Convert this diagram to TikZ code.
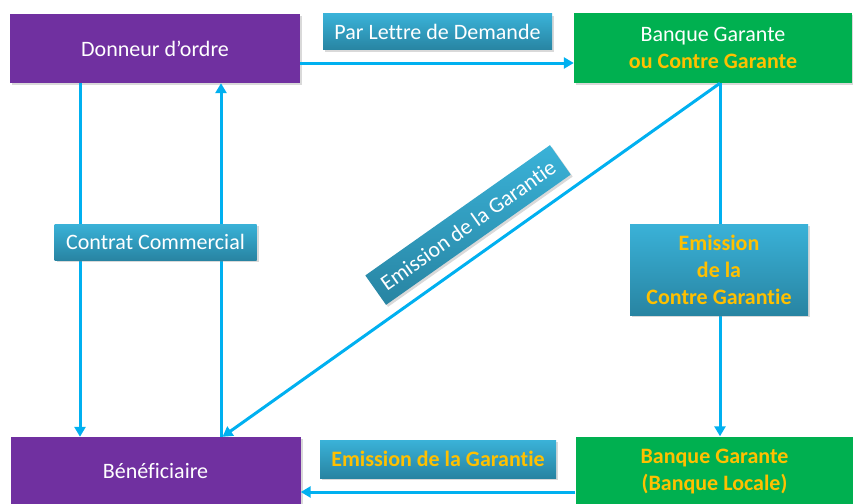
\documentclass[tikz,border=0pt]{standalone}
\usepackage{fontspec}
\setmainfont{Carlito}[RawFeature={-liga;-clig;-calt;-dlig}]
\usetikzlibrary{shadows,arrows.meta,positioning,calc}
\definecolor{violet}{RGB}{112,48,160}
\definecolor{vert}{RGB}{0,176,80}
\definecolor{fleche}{RGB}{0,176,240}
\definecolor{orange}{RGB}{255,192,0}
\definecolor{bleuhaut}{RGB}{58,178,216}
\definecolor{bleubas}{RGB}{40,132,162}

\begin{document}
\begin{tikzpicture}
[x=1pt,y=-1pt,
font=\fontsize{22}{27}\selectfont,
%
partie/.style={shape=rectangle,inner sep=0pt,text=white,align=center,
  drop shadow={shadow xshift=2pt,shadow yshift=-2pt,opacity=0.3}},
client/.style={partie,fill=violet,minimum width=290pt,minimum height=69pt},
banque/.style={partie,fill=vert,minimum width=278pt,minimum height=70pt},
etiquette/.style={shape=rectangle,inner sep=0pt,text=white,align=center,
  top color=bleuhaut,bottom color=bleubas,
  drop shadow={shadow xshift=2pt,shadow yshift=-2pt,opacity=0.3}},
gras/.style={text=orange,font=\fontsize{22}{27}\selectfont\bfseries},
%
flux/.style={draw=fleche,line width=3pt,-{Triangle[length=10pt,width=11pt]}}]
%
\useasboundingbox (0,0) rectangle (853,503);
% parties
\node (donneur) [client] at (155,48.5) {Donneur d’ordre};
\node (benef) [client] at (155.5,471.5) {Bénéficiaire};
\node (garante) [banque] at (713,48) {Banque Garante\\\textcolor{orange}{\bfseries ou Contre Garante}};
\node (locale) [banque,gras] at (714.5,471.5) {Banque Garante\\(Banque Locale)};
% fleches
\draw[flux] ([yshift=-14.5pt]donneur.east) -- ([yshift=-15pt]garante.west);
\draw[flux] ([xshift=-75pt]donneur.south) -- ([xshift=-75.5pt]benef.north);
\draw[flux] ([xshift=65.5pt]benef.north) -- ([xshift=66pt]donneur.south);
\draw[flux] ([xshift=7pt]garante.south) -- ([xshift=5.5pt]locale.north);
\draw[flux] ([xshift=7pt]garante.south) -- ([xshift=67pt]benef.north);
\draw[flux] ([yshift=-20.5pt]locale.west) -- ([yshift=-20.5pt]benef.east);
% etiquettes
\node (lettre) [etiquette,minimum width=229pt,minimum height=36pt] at (437.5,32) {Par Lettre de Demande};
\node (contrat) [etiquette,minimum width=202pt,minimum height=36pt] at (155.5,242) {Contrat Commercial};
\node (contregar) [etiquette,gras,minimum width=178pt,minimum height=91pt] at (719,269.5) {Emission\\de la\\Contre Garantie};
\node (emisbas) [etiquette,gras,minimum width=236pt,minimum height=38pt] at (438,459) {Emission de la Garantie};
\node (emisdiag) [etiquette,rotate=35.2,minimum width=226pt,minimum height=36pt] at (468,225) {Emission de la Garantie};
\end{tikzpicture}
\end{document}
